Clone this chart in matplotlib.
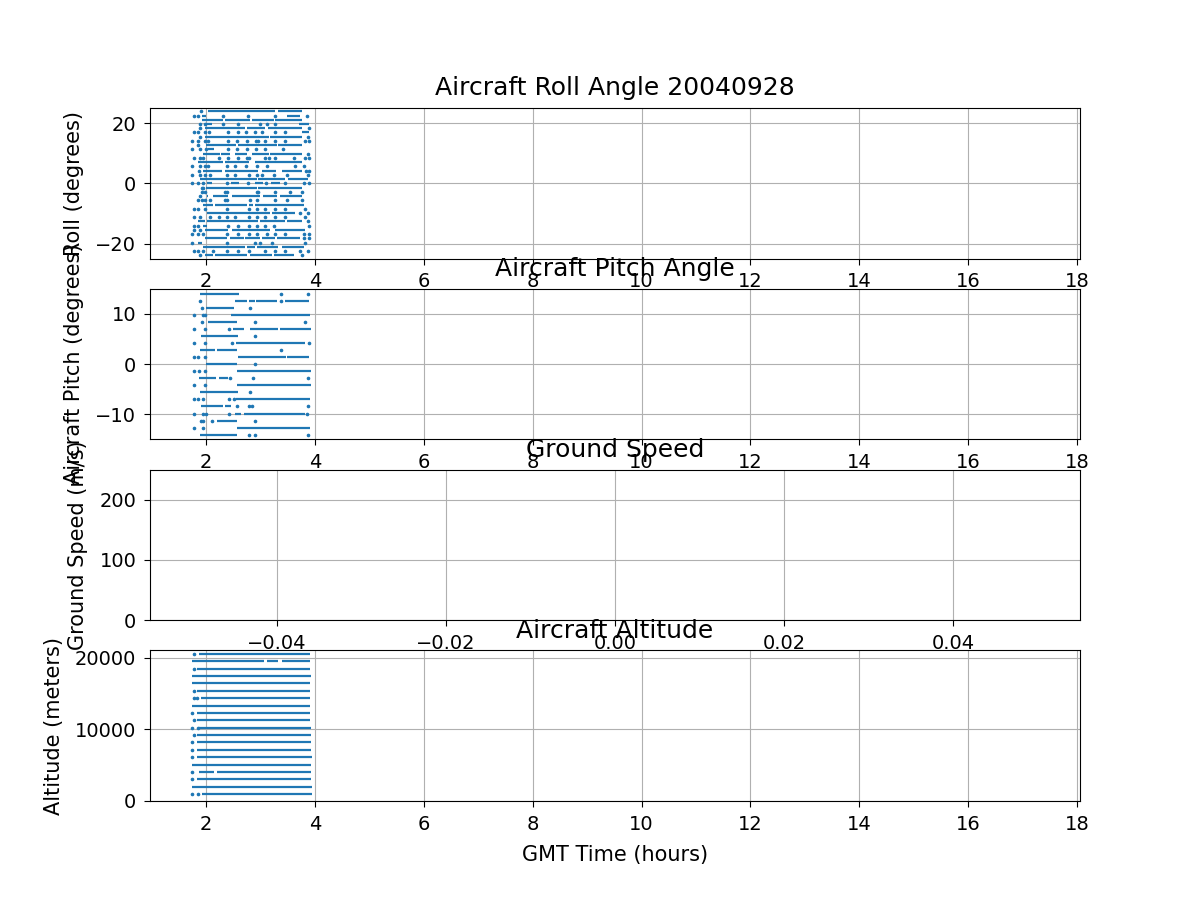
import matplotlib
matplotlib.use("Agg")
import matplotlib.pyplot as plt

# ---------------- Roll (degrees) ----------------
roll_seg_level = [23.91, 23.91,
                  22.50, 22.50,
                  21.09, 21.09, 21.09, 21.09,
                  19.69, 19.69,
                  18.28, 18.28, 18.28,
                  16.88,
                  15.47, 15.47,
                  12.66, 12.66, 12.66,
                  11.25,
                  9.84, 9.84, 9.84, 9.84, 9.84,
                  7.03, 7.03, 7.03,
                  4.22, 4.22, 4.22, 4.22,
                  1.41, 1.41, 1.41,
                  0.00, 0.00, 0.00, 0.00,
                  -1.41, -1.41,
                  -4.22, -4.22, -4.22, -4.22, -4.22,
                  -7.03, -7.03, -7.03, -7.03,
                  -9.84, -9.84,
                  -12.66, -12.66, -12.66, -12.66,
                  -14.06,
                  -15.47, -15.47, -15.47,
                  -18.28, -18.28, -18.28, -18.28, -18.28,
                  -19.69,
                  -21.09, -21.09, -21.09, -21.09,
                  -23.91, -23.91, -23.91, -23.91]
roll_seg_start = [2.03, 3.32,
                  1.92, 3.48,
                  1.92, 2.34, 2.84, 3.27,
                  2.00, 3.70,
                  1.98, 2.75, 3.13,
                  3.76,
                  1.98, 3.18,
                  1.99, 2.58, 3.33,
                  2.04,
                  1.95, 2.28, 2.53, 2.84, 3.18,
                  1.86, 2.34, 2.90,
                  1.95, 2.35, 3.02, 3.39,
                  1.89, 2.95, 3.51,
                  2.01, 2.45, 2.90, 3.20,
                  2.00, 2.95,
                  2.01, 2.13, 2.47, 3.05, 3.36,
                  1.95, 2.17, 2.78, 2.90,
                  2.01, 3.21,
                  1.86, 2.01, 2.99, 3.48,
                  1.95,
                  1.98, 2.47, 3.27,
                  1.98, 2.44, 2.72, 3.02, 3.30,
                  1.86,
                  1.95, 2.75, 2.93, 3.39,
                  1.98, 2.17, 2.81, 3.24]
roll_seg_end = [3.26, 3.76,
                2.00, 3.73,
                2.32, 2.81, 3.24, 3.77,
                2.10, 3.89,
                2.72, 3.08, 3.76,
                3.89,
                3.15, 3.76,
                2.55, 3.30, 3.76,
                2.15,
                2.26, 2.44, 2.75, 3.15, 3.77,
                2.32, 2.78, 3.76,
                2.29, 2.96, 3.28, 3.77,
                2.93, 3.45, 3.88,
                2.10, 2.60, 3.05, 3.35,
                2.93, 3.76,
                2.04, 2.41, 2.99, 3.30, 3.76,
                2.13, 2.75, 2.87, 3.79,
                3.18, 3.64,
                1.98, 2.96, 3.45, 3.76,
                2.01,
                2.41, 3.18, 3.81,
                2.38, 2.69, 2.99, 3.27, 3.73,
                1.92,
                2.72, 2.90, 3.33, 3.79,
                2.13, 2.75, 3.21, 3.61]

roll_pt_level = ([23.91] +
                 [22.50] * 6 +
                 [19.69] * 7 +
                 [18.28] * 2 +
                 [16.88] * 11 +
                 [15.47] * 2 +
                 [14.06] * 14 +
                 [12.66] +
                 [11.25] * 9 +
                 [9.84] +
                 [8.44] * 14 +
                 [5.62] * 11 +
                 [4.22] * 3 +
                 [2.81] * 12 +
                 [0.00] * 9 +
                 [-1.41] * 2 +
                 [-2.81] * 9 +
                 [-4.22] +
                 [-5.62] * 11 +
                 [-8.44] * 10 +
                 [-9.84] * 2 +
                 [-11.25] * 12 +
                 [-12.66] +
                 [-14.06] * 9 +
                 [-15.47] * 2 +
                 [-16.88] * 12 +
                 [-18.28] * 2 +
                 [-19.69] * 6 +
                 [-22.50] * 12 +
                 [-23.91] * 2)
roll_pt_time = ([1.91] +
                [1.77, 1.86, 2.32, 2.77, 3.26, 3.85] +
                [1.89, 1.98, 2.32, 2.59, 2.99, 3.12, 3.27] +
                [1.89, 3.89] +
                [1.77, 1.86, 1.98, 2.06, 2.41, 2.58, 2.74, 2.90, 3.02, 3.26, 3.45] +
                [1.89, 3.88] +
                [1.75, 1.86, 1.98, 2.04, 2.41, 2.56, 2.75, 2.92, 2.95, 3.08, 3.26, 3.45, 3.82, 3.89] +
                [1.86] +
                [1.75, 1.89, 1.99, 2.41, 2.56, 2.75, 2.92, 3.08, 3.42] +
                [3.88] +
                [1.77, 1.89, 1.95, 2.23, 2.41, 2.59, 2.75, 2.78, 3.08, 3.15, 3.27, 3.61, 3.82, 3.89] +
                [1.75, 1.89, 1.98, 2.04, 2.38, 2.53, 2.74, 2.93, 3.12, 3.64, 3.79] +
                [1.87, 3.83, 3.89] +
                [1.75, 1.89, 1.98, 2.07, 2.38, 2.53, 2.78, 2.93, 3.02, 3.24, 3.48, 3.88] +
                [1.75, 1.86, 1.95, 2.38, 2.77, 3.10, 3.45, 3.79, 3.89] +
                [1.92, 1.95] +
                [1.92, 1.98, 2.35, 2.38, 2.93, 2.96, 3.27, 3.54, 3.76] +
                [1.89] +
                [1.86, 1.92, 1.98, 2.07, 2.35, 2.38, 2.81, 2.93, 3.27, 3.48, 3.76] +
                [1.77, 1.86, 1.98, 2.38, 2.78, 2.93, 3.08, 3.27, 3.45, 3.82] +
                [3.73, 3.88] +
                [1.77, 1.89, 2.07, 2.23, 2.38, 2.53, 2.78, 2.93, 3.08, 3.27, 3.45, 3.82] +
                [3.88] +
                [1.77, 1.86, 2.41, 2.59, 2.78, 2.93, 3.08, 3.24, 3.89] +
                [1.77, 1.89] +
                [1.75, 1.86, 1.95, 2.38, 2.59, 2.78, 2.93, 3.12, 3.27, 3.45, 3.79, 3.89] +
                [3.79, 3.89] +
                [1.75, 2.38, 2.90, 2.99, 3.21, 3.82] +
                [1.77, 1.86, 1.95, 2.13, 2.38, 2.59, 2.78, 3.08, 3.27, 3.45, 3.73, 3.88] +
                [1.89, 3.77])

# ---------------- Pitch (degrees) ----------------
pitch_seg_level = [14.06,
                   12.66, 12.66, 12.66, 12.66,
                   11.25,
                   9.84,
                   8.44,
                   7.03, 7.03, 7.03,
                   5.62,
                   4.22,
                   2.81, 2.81,
                   1.41, 1.41,
                   0.00,
                   -1.41,
                   -2.81, -2.81,
                   -4.22,
                   -5.62,
                   -7.03,
                   -8.44, -8.44,
                   -9.84, -9.84,
                   -11.25,
                   -12.66,
                   -14.06]
pitch_seg_start = [1.89,
                   2.53, 2.79, 2.92, 3.45,
                   2.00,
                   2.46,
                   2.03,
                   2.49, 2.81, 3.35,
                   1.91,
                   2.55,
                   1.89, 2.20,
                   2.59, 3.48,
                   2.00,
                   2.56,
                   1.87, 2.23,
                   2.56,
                   1.89,
                   2.55,
                   1.91, 2.35,
                   2.53, 2.70,
                   2.21,
                   2.56,
                   1.89]
pitch_seg_end = [2.61,
                 2.75, 2.89, 3.30, 3.90,
                 2.52,
                 3.91,
                 2.56,
                 2.70, 3.32, 3.93,
                 2.58,
                 3.82,
                 2.17, 2.56,
                 3.46, 3.90,
                 2.56,
                 3.93,
                 2.18, 2.40,
                 3.93,
                 2.58,
                 3.91,
                 2.32, 2.46,
                 2.64, 3.81,
                 2.56,
                 3.91,
                 2.56]
pitch_pt_level = ([14.06] * 2 + [12.66] * 2 + [11.25] * 2 + [9.84] * 3 +
                  [8.44] * 3 + [7.03] * 3 + [5.62] + [4.22] * 4 + [2.81] +
                  [1.41] * 3 + [0.00] + [-1.41] * 3 + [-2.81] * 3 +
                  [-4.22] * 2 + [-5.62] + [-7.03] * 5 + [-8.44] * 4 +
                  [-9.84] * 5 + [-11.25] * 4 + [-12.66] * 2 + [-14.06] * 3)
pitch_pt_time = ([3.37, 3.88] + [1.89, 3.37] + [1.93, 2.80] + [1.77, 1.95, 1.98] +
                 [1.93, 2.89, 3.81] + [1.77, 1.98, 2.43] + [2.89] +
                 [1.77, 1.98, 2.48, 3.89] + [3.37] +
                 [1.77, 1.86, 1.98] + [2.89] + [1.77, 1.87, 1.98] + [2.44, 2.87, 3.88] +
                 [1.77, 1.98] + [2.80] + [1.77, 1.86, 1.95, 2.43, 2.52] +
                 [2.56, 2.79, 2.84, 3.88] +
                 [1.77, 1.95, 1.99, 2.43, 3.85] + [1.91, 1.95, 2.10, 2.89] +
                 [1.77, 1.95] + [2.79, 2.89, 3.88])

# ---------------- Altitude (meters) ----------------
alt_seg_level = [20485,
                 19460, 19460, 19460,
                 18430, 17405, 16380, 15350, 14325, 13300, 12270, 11245,
                 10220, 9190, 8165, 7135, 6110, 5080,
                 4055, 4055,
                 3030, 2000, 975]
alt_seg_start = [1.87,
                 1.75, 3.12, 3.39,
                 1.83, 1.74, 1.75, 1.84, 1.91, 1.74, 1.83, 1.84,
                 1.87, 1.84, 1.84, 1.84, 1.84, 1.75,
                 1.87, 2.21,
                 1.84, 1.75, 1.93]
alt_seg_end = [3.91,
               3.07, 3.33, 3.91,
               3.91, 3.93, 3.91, 3.91, 3.91, 3.91, 3.91, 3.91,
               3.93, 3.93, 3.93, 3.93, 3.94, 3.93,
               2.15, 3.93,
               3.93, 3.94, 3.94]
alt_pt_level = [20485, 18430, 15350, 14325, 14325, 12270, 11245, 10220, 10220,
                9190, 8165, 7135, 6110, 4055, 3030, 975, 975]
alt_pt_time = [1.77, 1.77, 1.77, 1.77, 1.83, 1.75, 1.77, 1.75, 1.86,
               1.77, 1.75, 1.75, 1.75, 1.75, 1.75, 1.75, 1.86]

# ---------------- Ground speed (m/s): no valid samples ----------------
gs_time = []
gs_speed = []

color = "#1f77b4"
TICK_FS = 14
LABEL_FS = 15
TITLE_FS = 18
LABELPAD = 8
TITLE_PAD = 9

fig, axs = plt.subplots(4, 1, figsize=(12, 9), dpi=100)


def draw(ax, seg_lv, seg_s, seg_e, pt_t, pt_lv):
    ax.hlines(seg_lv, seg_s, seg_e, colors=color, linewidth=1.6)
    ax.plot(pt_t, pt_lv, ".", color=color, markersize=3.2, linestyle="none")


ax = axs[0]
draw(ax, roll_seg_level, roll_seg_start, roll_seg_end, roll_pt_time, roll_pt_level)
ax.set_xlim(0.97, 18.055)
ax.set_ylim(-25, 25)
ax.set_title("Aircraft Roll Angle 20040928", fontsize=TITLE_FS, pad=TITLE_PAD)
ax.set_ylabel("Roll (degrees)", fontsize=LABEL_FS, labelpad=LABELPAD)

ax = axs[1]
draw(ax, pitch_seg_level, pitch_seg_start, pitch_seg_end, pitch_pt_time, pitch_pt_level)
ax.set_xlim(0.97, 18.055)
ax.set_ylim(-15, 15)
ax.set_title("Aircraft Pitch Angle", fontsize=TITLE_FS, pad=TITLE_PAD)
ax.set_ylabel("Aircraft Pitch (degrees)", fontsize=LABEL_FS, labelpad=LABELPAD)

ax = axs[2]
ax.plot(gs_time, gs_speed, ".", color=color, markersize=3.2)
ax.set_xlim(-0.055, 0.055)
ax.set_ylim(0, 250)
ax.set_title("Ground Speed", fontsize=TITLE_FS, pad=TITLE_PAD)
ax.set_ylabel("Ground Speed (m/s)", fontsize=LABEL_FS, labelpad=LABELPAD)

ax = axs[3]
draw(ax, alt_seg_level, alt_seg_start, alt_seg_end, alt_pt_time, alt_pt_level)
ax.set_xlim(0.97, 18.055)
ax.set_ylim(0, 21000)
ax.set_title("Aircraft Altitude", fontsize=TITLE_FS, pad=TITLE_PAD)
ax.set_ylabel("Altitude (meters)", fontsize=LABEL_FS, labelpad=LABELPAD)
ax.set_xlabel("GMT Time (hours)", fontsize=LABEL_FS, labelpad=LABELPAD)

for a in axs:
    a.grid(True)
    a.tick_params(labelsize=TICK_FS, length=4.4, pad=5.5)

fig.savefig("out.png", dpi=100)
